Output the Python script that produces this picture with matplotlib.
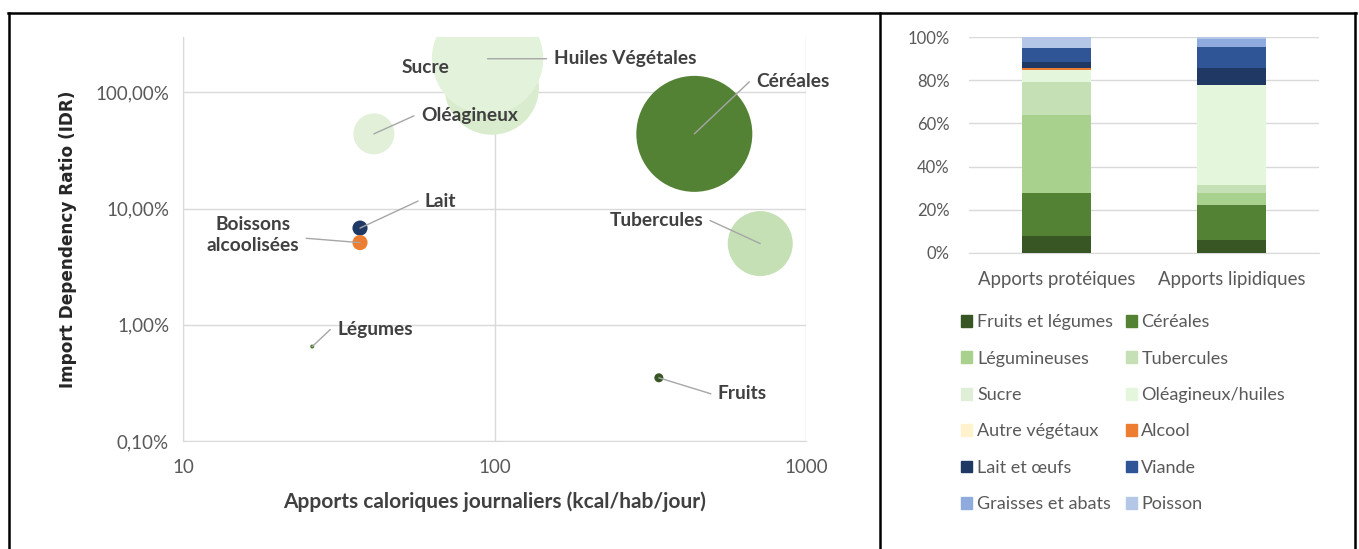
import math
import numpy as np
import matplotlib
matplotlib.use("Agg")
import matplotlib.pyplot as plt
from matplotlib.lines import Line2D
from matplotlib.patches import Patch

plt.rcParams['font.family'] = ['Lato', 'DejaVu Sans']

# ---- bubble chart data ----
produits = ['Sucre', 'Huiles Végétales', 'Céréales', 'Oléagineux', 'Tubercules',
            'Lait', 'Boissons\nalcoolisées', 'Légumes', 'Fruits']
apports_kcal = [98, 95, 438, 41, 713, 37, 37, 26, 337]
idr = [1.10, 1.95, 0.44, 0.44, 0.050, 0.068, 0.051, 0.0065, 0.0035]
taille = [66, 92, 100, 12.5, 31.4, 1.7, 1.7, 0.12, 0.6]
couleurs_bulles = ['#d9ecce', '#e3f2da', '#548235', '#e2f0d9', '#c5e0b4',
                   '#203864', '#ed7d31', '#4e7a2e', '#375623']
# label offsets (pixels) from bubble centre, alignment, leader line or not
label_dx = [-66, 66, 62, 47, -57, 65, -107, 25, 59]
label_dy = [20, 0, 52, 18, 23, 27, 8, 17, -16]
label_ha = ['center', 'left', 'left', 'left', 'right', 'left', 'center', 'left', 'left']
leader = [False, True, True, True, True, True, True, True, True]

x_ticks = [10, 100, 1000]
x_tick_labels = ['10', '100', '1000']
y_ticks = [0.001, 0.01, 0.1, 1]
y_tick_labels = ['0,10%', '1,00%', '10,00%', '100,00%']

# ---- stacked bar data ----
categories = ['Apports protéiques', 'Apports lipidiques']
groupes = ['Fruits et légumes', 'Céréales', 'Légumineuses', 'Tubercules', 'Sucre',
           'Oléagineux/huiles', 'Autre végétaux', 'Alcool', 'Lait et œufs', 'Viande',
           'Graisses et abats', 'Poisson']
proteines = [7.7, 20.1, 36.1, 15.5, 0.0, 5.4, 0.0, 1.1, 2.8, 6.5, 0.0, 4.8]
lipides = [5.9, 16.4, 5.6, 3.3, 0.0, 46.7, 0.0, 0.0, 8.0, 9.8, 3.4, 0.9]
couleurs_barres = ['#375623', '#548235', '#a9d18e', '#c5e0b4', '#dfeed7', '#e4f6db',
                   '#fff2cc', '#ed7d31', '#203864', '#2f5597', '#8faadc', '#b4c7e7']
y_ticks_bar = [0, 0.2, 0.4, 0.6, 0.8, 1.0]
y_tick_labels_bar = ['0%', '20%', '40%', '60%', '80%', '100%']

W, H = 1359, 549
fig = plt.figure(figsize=(W / 100, H / 100), dpi=100)

grid_c = '#d9d9d9'
tick_c = '#595959'
lab_c = '#404040'

# ================= bubble chart =================
ax = fig.add_axes([183 / W, 1 - 441 / H, 623 / W, 404 / H])
ax.set_xscale('log')
ax.set_yscale('log')
ax.set_xlim(10, 1000)
ax.set_ylim(0.001, 3.0)

s = [t * 69.75 for t in taille]
for i in range(len(produits)):
    ax.scatter(apports_kcal[i], idr[i], s=s[i], color=couleurs_bulles[i],
               edgecolors='none', zorder=3 + (1 if i == 1 else 0))

for i, p in enumerate(produits):
    dx, dy = label_dx[i], label_dy[i]
    kw = dict(xy=(apports_kcal[i], idr[i]), xytext=(dx, dy), textcoords='offset pixels',
              ha=label_ha[i], va='center', fontsize=13.8, fontweight='bold',
              color=lab_c, zorder=6, linespacing=1.3)
    if leader[i]:
        sgn = 1 if dx > 0 else -1
        relx = 0 if sgn > 0 else 1
        if dy == 0:
            conn = "arc3,rad=0"
        else:
            ang = math.degrees(math.atan2(dy, dx - 7 * sgn))
            conn = f"angle,angleA=0,angleB={ang},rad=0"
        kw['arrowprops'] = dict(arrowstyle='-', color='#a6a6a6', lw=1,
                                shrinkA=3, shrinkB=0, relpos=(relx, 0.5),
                                connectionstyle=conn)
    ax.annotate(p, **kw)

ax.xaxis.set_major_locator(matplotlib.ticker.FixedLocator(x_ticks))
ax.xaxis.set_major_formatter(matplotlib.ticker.FixedFormatter(x_tick_labels))
ax.xaxis.set_minor_locator(matplotlib.ticker.NullLocator())
ax.yaxis.set_major_locator(matplotlib.ticker.FixedLocator(y_ticks))
ax.yaxis.set_major_formatter(matplotlib.ticker.FixedFormatter(y_tick_labels))
ax.yaxis.set_minor_locator(matplotlib.ticker.NullLocator())
ax.grid(True, color=grid_c, lw=1, zorder=0)
ax.set_axisbelow(True)
for sp in ['top', 'right']:
    ax.spines[sp].set_visible(False)
for sp in ['left', 'bottom']:
    ax.spines[sp].set_color(grid_c)
ax.tick_params(length=0, labelsize=13.5, labelcolor=tick_c)
ax.tick_params(axis='x', pad=13)
ax.tick_params(axis='y', pad=10)
ax.set_xlabel('Apports caloriques journaliers (kcal/hab/jour)', fontsize=15,
              fontweight='bold', color=lab_c, labelpad=11)
ax.set_ylabel('Import Dependency Ratio (IDR)', fontsize=12.2, fontweight='bold',
              color='#262626', family='DejaVu Sans', labelpad=13)

# ================= stacked bars =================
bx = fig.add_axes([969 / W, 1 - 252.7 / H, 350 / W, 215.4 / H])
xpos = np.arange(len(categories))
bottom = np.zeros(len(categories))
for i, g in enumerate(groupes):
    vals = np.array([proteines[i], lipides[i]]) / 100
    bx.bar(xpos, vals, width=0.394, bottom=bottom, color=couleurs_barres[i],
           label=g, zorder=3)
    bottom += vals
bx.set_xlim(-0.5, 1.5)
bx.set_ylim(0, 1.0)
bx.set_yticks(y_ticks_bar)
bx.set_yticklabels(y_tick_labels_bar)
bx.set_xticks(xpos)
bx.set_xticklabels(categories)
bx.grid(True, axis='y', color=grid_c, lw=1, zorder=0)
for sp in ['top', 'right', 'left']:
    bx.spines[sp].set_visible(False)
bx.spines['bottom'].set_color(grid_c)
bx.tick_params(axis='y', length=0, labelsize=12, labelcolor=tick_c, pad=14)
bx.tick_params(axis='x', length=0, labelsize=13.4, labelcolor=tick_c, pad=13)

handles = [Patch(color=couleurs_barres[i]) for i in range(len(groupes))]
order = [0, 2, 4, 6, 8, 10, 1, 3, 5, 7, 9, 11]
leg = fig.legend([handles[i] for i in order], [groupes[i] for i in order],
                 loc='upper left', bbox_to_anchor=(945 / W, 1 - 298 / H),
                 ncol=2, frameon=False, fontsize=13, handlelength=0.62,
                 handleheight=0.62, handletextpad=0.25, columnspacing=0.7,
                 labelspacing=1.13)
for t in leg.get_texts():
    t.set_color(tick_c)

# ================= frame lines =================
lw = 1.8
y_top = 1 - 13 / H
fig.add_artist(Line2D([8 / W, 1356 / W], [y_top, y_top], color='black', lw=lw))
fig.add_artist(Line2D([9 / W, 9 / W], [0, y_top], color='black', lw=lw))
fig.add_artist(Line2D([880 / W, 880 / W], [0, y_top], color='black', lw=lw))
fig.add_artist(Line2D([1355 / W, 1355 / W], [0, y_top], color='black', lw=lw))

fig.savefig('out.png', dpi=100)
